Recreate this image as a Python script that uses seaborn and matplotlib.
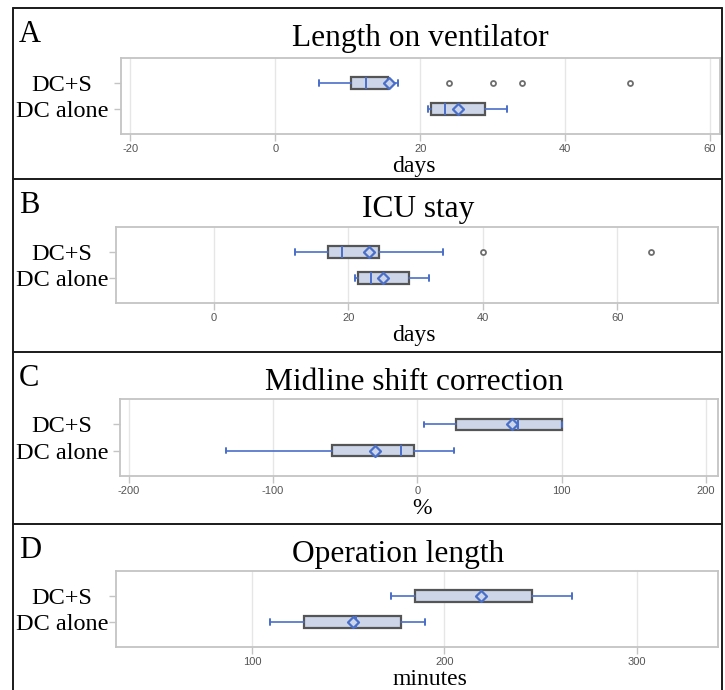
import numpy as np
import pandas as pd
import matplotlib
matplotlib.use("Agg")
import matplotlib.pyplot as plt
import seaborn as sns
from matplotlib.lines import Line2D

# ---------------- data ----------------
categories = ["DC+S", "DC alone"]

# A: Length on ventilator (days)
vent_low = [6.0, 21.1]
vent_q1 = [10.5, 21.5]
vent_med = [12.5, 23.5]
vent_q3 = [15.5, 29.0]
vent_high = [17.0, 32.0]
vent_mean = [15.7, 25.2]
vent_out_dcs = [24, 30, 34, 49]
vent_out_dc = []

# B: ICU stay (days)
icu_low = [12.0, 21.0]
icu_q1 = [17.0, 21.4]
icu_med = [19.0, 23.4]
icu_q3 = [24.5, 29.0]
icu_high = [34.0, 32.0]
icu_mean = [23.0, 25.1]
icu_out_dcs = [40, 65]
icu_out_dc = []

# C: Midline shift correction (%)
mls_low = [4.8, -132.7]
mls_q1 = [27.0, -58.8]
mls_med = [69.7, -11.6]
mls_q3 = [100.0, -2.6]
mls_high = [100.0, 25.7]
mls_mean = [65.9, -29.2]
mls_out_dcs = []
mls_out_dc = []

# D: Operation length (minutes)
op_low = [172.3, 109.4]
op_q1 = [184.6, 127.2]
op_med = [219.0, 154.0]
op_q3 = [245.5, 177.3]
op_high = [266.5, 189.9]
op_mean = [219.0, 152.3]
op_out_dcs = []
op_out_dc = []

panel_letters = ["A", "B", "C", "D"]
panel_titles = ["Length on ventilator", "ICU stay", "Midline shift correction", "Operation length"]
x_labels = ["days", "days", "%", "minutes"]
x_ticks = [[-20, 0, 20, 40, 60], [0, 20, 40, 60], [-200, -100, 0, 100, 200], [100, 200, 300]]

# ---------------- style ----------------
sns.set_theme(style="whitegrid")
plt.rcParams["font.family"] = ["Liberation Serif", "DejaVu Serif"]
plt.rcParams["text.color"] = "black"

W, H = 725, 690
fig = plt.figure(figsize=(W / 100, H / 100), dpi=100)
fig.patch.set_facecolor("white")

BOX_FILL = "#ccd6e8"
BOX_EDGE = "#555555"
BLUE = "#4a6fca"
FLIER = "#6e6e6e"
SPINE = "#c4c4c4"
GRID = "#e6e6e6"

# pixel layout: (axes left, axes right, axes top, axes bottom)
layouts = [
    (121, 720, 58, 134),
    (116, 718, 227, 303),
    (120, 718, 399, 476),
    (116, 718, 571, 647),
]
xlims = [(-21.3, 61.4), (-14.6, 75.0), (-206.0, 208.3), (29.4, 342.2)]
title_x = [420, 418, 414, 398]
xlabel_x = [414, 414, 422, 430]
panel_tops = [8, 179, 352, 524]
ylabel_center_px = 64

panels = [
    (vent_low, vent_q1, vent_med, vent_q3, vent_high, vent_mean, vent_out_dcs, vent_out_dc),
    (icu_low, icu_q1, icu_med, icu_q3, icu_high, icu_mean, icu_out_dcs, icu_out_dc),
    (mls_low, mls_q1, mls_med, mls_q3, mls_high, mls_mean, mls_out_dcs, mls_out_dc),
    (op_low, op_q1, op_med, op_q3, op_high, op_mean, op_out_dcs, op_out_dc),
]


def fx(px):
    return px / W


def fy(py):
    return 1 - py / H


for k, (low, q1, med, q3, high, mean, out_a, out_b) in enumerate(panels):
    l, r, t, b = layouts[k]
    ax = fig.add_axes([fx(l), fy(b), (r - l) / W, (b - t) / H])
    ax.set_facecolor("white")

    # means (seaborn)
    mean_df = pd.DataFrame({"group": categories, "value": mean})
    sns.stripplot(data=mean_df, x="value", y="group", order=categories, orient="h",
                  jitter=False, marker="D", size=5.6, color=BOX_FILL,
                  edgecolor=BLUE, linewidth=1.6, ax=ax, zorder=6)

    # outliers (seaborn)
    out_vals = list(out_a) + list(out_b)
    out_grp = [categories[0]] * len(out_a) + [categories[1]] * len(out_b)
    if out_vals:
        out_df = pd.DataFrame({"group": out_grp, "value": out_vals})
        sns.stripplot(data=out_df, x="value", y="group", order=categories, orient="h",
                      jitter=False, marker="o", size=3.6, color="white",
                      edgecolor=FLIER, linewidth=1.3, ax=ax, zorder=5)

    # boxes from summary statistics
    stats = [dict(whislo=low[i], q1=q1[i], med=med[i], q3=q3[i], whishi=high[i], fliers=[])
             for i in range(len(categories))]
    ax.bxp(stats, positions=[0, 1], orientation="horizontal", widths=0.43,
           capwidths=0.2, patch_artist=True, showfliers=False, manage_ticks=False,
           boxprops=dict(facecolor=BOX_FILL, edgecolor=BOX_EDGE, linewidth=1.6),
           medianprops=dict(color=BLUE, linewidth=1.4),
           whiskerprops=dict(color=BLUE, linewidth=1.2),
           capprops=dict(color=BLUE, linewidth=1.4),
           zorder=3)

    ax.set_xlim(*xlims[k])
    ax.set_ylim(1.95, -0.95)
    ax.set_xticks(x_ticks[k])
    ax.set_xticklabels([str(v) for v in x_ticks[k]], family="Liberation Sans",
                       fontsize=8, color="#555555")
    ax.set_yticks([0, 1])
    ax.set_yticklabels(categories, fontsize=17.5, color="black", family="Liberation Serif")
    for lab in ax.get_yticklabels():
        lab.set_horizontalalignment("center")
    ax.set_xlabel("")
    ax.set_ylabel("")
    ax.grid(axis="x", color=GRID, linewidth=1.0)
    ax.grid(axis="y", visible=False)
    ax.tick_params(axis="x", bottom=True, length=5, width=1, color=SPINE, pad=2)
    ypad_pt = (l - ylabel_center_px - 5) * 0.72
    ax.tick_params(axis="y", left=True, length=5, width=1, color=SPINE, pad=ypad_pt)
    for s in ax.spines.values():
        s.set_color(SPINE)
        s.set_linewidth(1.3)
        s.set_visible(True)

    top = panel_tops[k]
    fig.text(fx(19), fy(top + 34), panel_letters[k], fontsize=22, ha="left", va="baseline",
             family="Liberation Serif", color="black")
    fig.text(fx(title_x[k]), fy(top + 38), panel_titles[k], fontsize=22.6, ha="center",
             va="baseline", family="Liberation Serif", color="black")
    fig.text(fx(xlabel_x[k]), fy(b + 38), x_labels[k], fontsize=17, ha="center",
             va="baseline", family="Liberation Serif", color="black")

# panel frames
frame_kw = dict(color="#1a1a1a", linewidth=1.4, transform=fig.transFigure)
fig.add_artist(Line2D([fx(12.7), fx(12.7)], [fy(8), 0], **frame_kw))
fig.add_artist(Line2D([fx(721.5), fx(721.5)], [fy(8), 0], **frame_kw))
for yy in panel_tops:
    fig.add_artist(Line2D([fx(12.7), fx(721.5)], [fy(yy), fy(yy)], **frame_kw))

fig.savefig("out.png", dpi=100, facecolor="white")
